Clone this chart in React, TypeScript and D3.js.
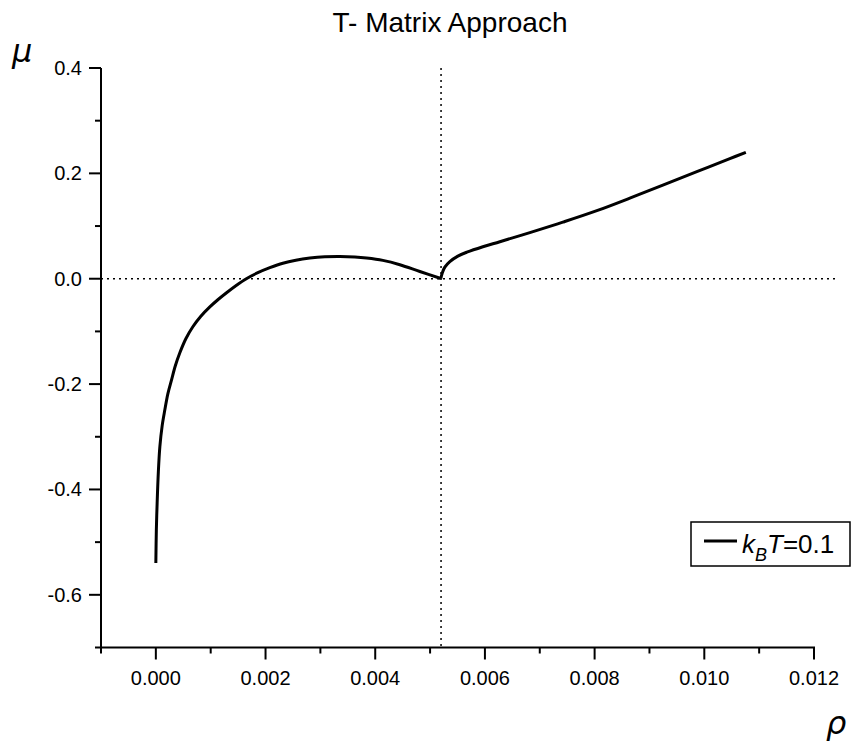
import React from "react";
import * as d3 from "d3";

const rhoLeft = [0, 0.0000091, 0.0000237, 0.0000456, 0.0000729, 0.0001149, 0.0001641, 0.0002188, 0.0002863, 0.0003555, 0.0004376, 0.000547, 0.0006746, 0.0008205, 0.0009846, 0.0011304, 0.0012891, 0.0014586, 0.0016501, 0.0018598, 0.0020786, 0.0023156, 0.0025526, 0.0028079, 0.0030813, 0.0033548, 0.0036283, 0.0038417, 0.0041389, 0.0044489, 0.0048135, 0.0051964];
const muLeft = [-0.5396, -0.4769, -0.4256, -0.3667, -0.3192, -0.2793, -0.2489, -0.2185, -0.1919, -0.1653, -0.1406, -0.114, -0.0912, -0.0712, -0.0535, -0.0399, -0.0266, -0.0133, 0.0, 0.0114, 0.0209, 0.0295, 0.0352, 0.0393, 0.0418, 0.0424, 0.0414, 0.0394, 0.0348, 0.0266, 0.0137, 0.0005];
const rhoRight = [0.0051964, 0.0052238, 0.0052693, 0.0053605, 0.0055064, 0.0056705, 0.0059622, 0.0062722, 0.0068192, 0.0074209, 0.0080408, 0.0086424, 0.0092441, 0.009864, 0.0104657, 0.0107574];
const muRight = [0.0005, 0.0114, 0.0219, 0.0323, 0.0428, 0.0504, 0.0608, 0.0703, 0.0874, 0.1074, 0.1292, 0.153, 0.1777, 0.2033, 0.228, 0.24];

const xMajor = [0, 0.002, 0.004, 0.006, 0.008, 0.01, 0.012];
const xMinor = [-0.001, 0.001, 0.003, 0.005, 0.007, 0.009, 0.011];
const yMajor = [-0.6, -0.4, -0.2, 0.0, 0.2, 0.4];
const yMinor = [-0.7, -0.5, -0.3, -0.1, 0.1, 0.3];
const critRho = 0.0052;
const title = "T- Matrix Approach";

export default function App() {
  const W = 853, H = 742;
  const x = d3.scaleLinear().domain([-0.001, 0.012]).range([101, 814]);
  const y = d3.scaleLinear().domain([-0.7, 0.4]).range([647.5, 68]);
  const left = rhoLeft.map((r, i) => [r, muLeft[i]] as [number, number]);
  const right = rhoRight.map((r, i) => [r, muRight[i]] as [number, number]);
  const line = d3.line<[number, number]>().x(d => x(d[0])).y(d => y(d[1])).curve(d3.curveCatmullRom.alpha(0.5));
  const font = "'Liberation Sans', Arial, sans-serif";
  return (
    <svg width={W} height={H} style={{ position: "absolute", left: 0, top: 0, background: "#fff" }} fontFamily={font}>
      <rect x={0} y={0} width={W} height={H} fill="#fff" />
      <text x={450} y={32} fontSize={28} textAnchor="middle">{title}</text>
      <line x1={x(-0.001)} x2={838} y1={y(0)} y2={y(0)} stroke="#000" strokeWidth={1.5} strokeDasharray="2,4" />
      <line x1={x(critRho)} x2={x(critRho)} y1={y(0.4)} y2={y(-0.7)} stroke="#000" strokeWidth={1.5} strokeDasharray="2,4" />
      <line x1={x(-0.001)} x2={x(-0.001)} y1={y(0.4)} y2={y(-0.7) + 1} stroke="#000" strokeWidth={2} />
      <line x1={x(-0.001) - 1} x2={x(0.012) + 1} y1={y(-0.7)} y2={y(-0.7)} stroke="#000" strokeWidth={2} />
      {yMajor.map(v => (
        <g key={"ym" + v}>
          <line x1={x(-0.001) - 12} x2={x(-0.001)} y1={y(v)} y2={y(v)} stroke="#000" strokeWidth={2} />
          <text x={82} y={y(v) + 7} fontSize={20} textAnchor="end">{d3.format(".1f")(v).replace("−", "-")}</text>
        </g>
      ))}
      {yMinor.map(v => (
        <line key={"yn" + v} x1={x(-0.001) - 6} x2={x(-0.001)} y1={y(v)} y2={y(v)} stroke="#000" strokeWidth={2} />
      ))}
      {xMajor.map(v => (
        <g key={"xm" + v}>
          <line x1={x(v)} x2={x(v)} y1={y(-0.7)} y2={y(-0.7) + 12} stroke="#000" strokeWidth={2} />
          <text x={x(v)} y={685} fontSize={20} textAnchor="middle">{d3.format(".3f")(v)}</text>
        </g>
      ))}
      {xMinor.map(v => (
        <line key={"xn" + v} x1={x(v)} x2={x(v)} y1={y(-0.7)} y2={y(-0.7) + 6} stroke="#000" strokeWidth={2} />
      ))}
      <path d={line(left) || ""} fill="none" stroke="#000" strokeWidth={3} strokeLinejoin="round" />
      <path d={line(right) || ""} fill="none" stroke="#000" strokeWidth={3} strokeLinejoin="round" />
      <text x={12} y={62} fontSize={32} fontStyle="italic" fontFamily="'DejaVu Sans', sans-serif">μ</text>
      <text x={826} y={734} fontSize={32} fontStyle="italic" fontFamily="'DejaVu Sans', sans-serif">ρ</text>
      <rect x={691} y={522} width={159} height={44} fill="#fff" stroke="#000" strokeWidth={1.5} />
      <line x1={704} x2={737} y1={541} y2={541} stroke="#000" strokeWidth={3} />
      <text x={742} y={553} fontSize={26}>
        <tspan fontStyle="italic">k</tspan>
        <tspan fontStyle="italic" fontSize={18} dy={8}>B</tspan>
        <tspan fontStyle="italic" dy={-8}>T</tspan>
        <tspan>=0.1</tspan>
      </text>
    </svg>
  );
}
